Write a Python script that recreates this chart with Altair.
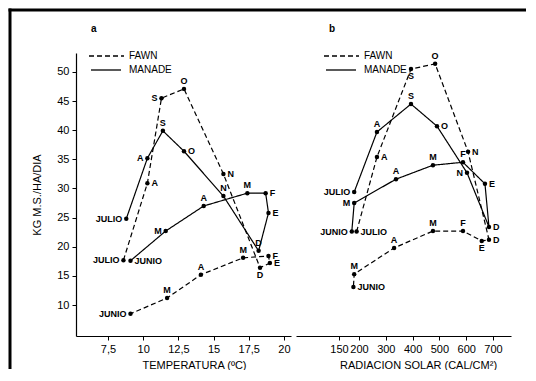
import altair as alt
import pandas as pd

FONT = "Liberation Sans"

meses = ["JULIO", "A", "S", "O", "N", "D", "E", "F", "M", "A", "M", "JUNIO"]

# Panel a: temperatura (ºC) vs kg MS/ha/dia
temp_manade = [8.8, 10.3, 11.4, 12.9, 15.7, 18.2, 18.9, 18.7, 17.4, 14.3, 11.6, 9.1]
kg_manade_a = [24.8, 35.2, 39.9, 36.4, 28.7, 19.3, 25.8, 29.2, 29.2, 27.0, 22.7, 17.6]
temp_fawn = [8.6, 10.3, 11.3, 12.9, 15.7, 18.3, 19.0, 18.9, 17.1, 14.1, 11.7, 9.1]
kg_fawn_a = [17.7, 30.9, 45.5, 47.1, 32.5, 16.4, 17.2, 18.4, 18.1, 15.2, 11.2, 8.5]

# Panel b: radiacion solar (cal/cm2) vs kg MS/ha/dia
rad_manade = [188, 267, 394, 491, 603, 685, 670, 588, 476, 338, 188, 182]
kg_manade_b = [29.4, 39.7, 44.5, 40.7, 32.7, 23.4, 30.8, 34.5, 34.0, 31.6, 27.5, 22.6]
rad_fawn = [194, 267, 394, 484, 607, 685, 658, 588, 476, 331, 188, 186]
kg_fawn_b = [22.6, 35.4, 50.5, 51.4, 36.3, 21.2, 21.0, 22.7, 22.7, 19.8, 15.3, 13.1]

# side of each month label (l=left, r=right, t=top, b=bottom)
lado_a_manade = ["l", "l", "t", "r", "t", "t", "r", "r", "t", "t", "l", "r"]
lado_a_fawn = ["l", "r", "l", "t", "r", "b", "r", "r", "t", "t", "t", "l"]
lado_b_manade = ["l", "t", "t", "r", "l", "r", "r", "t", "t", "t", "l", "l"]
lado_b_fawn = ["r", "r", "b", "t", "r", "r", "b", "t", "t", "t", "t", "r"]

series = ["FAWN", "MANADE"]
yticks = [10, 15, 20, 25, 30, 35, 40, 45, 50]
xticks_a = [7.5, 10, 12.5, 15, 17.5, 20]
xticks_b = [150, 200, 300, 400, 500, 600, 700]


def make_df(xs, ys, serie, lados):
    return pd.DataFrame({"x": xs, "y": ys, "serie": serie, "mes": meses,
                         "orden": list(range(len(meses))), "lado": lados})


dfa = pd.concat([make_df(temp_fawn, kg_fawn_a, "FAWN", lado_a_fawn),
                 make_df(temp_manade, kg_manade_a, "MANADE", lado_a_manade)])
dfb = pd.concat([make_df(rad_fawn, kg_fawn_b, "FAWN", lado_b_fawn),
                 make_df(rad_manade, kg_manade_b, "MANADE", lado_b_manade)])

W, H = 215, 283
Y_SCALE = alt.Scale(domain=[4.68, 53.26], nice=False, zero=False)
XA_SCALE = alt.Scale(domain=[5.23, 20.5], nice=False, zero=False)
XB_SCALE = alt.Scale(domain=[42.5, 150, 200, 700, 767], range=[0, 43, 63, 197, 215],
                     nice=False, zero=False)
DASH = alt.Scale(domain=series, range=[[5, 3], [1, 0]])

one = pd.DataFrame({"k": [0]})
leg_df = pd.DataFrame({"serie": series})


def legend_layers(x0):
    # legend: sample line segment + series name
    dashed = alt.Chart(leg_df).transform_filter(alt.datum.serie == "FAWN").mark_rule(
        color="black", strokeWidth=1.3, strokeDash=[5, 3], clip=False).encode(
        x=alt.value(x0), x2=alt.value(x0 + 35), y=alt.value(3), y2=alt.value(3))
    solid = alt.Chart(leg_df).transform_filter(alt.datum.serie == "MANADE").mark_rule(
        color="black", strokeWidth=1.3, clip=False).encode(
        x=alt.value(x0 + 2), x2=alt.value(x0 + 32), y=alt.value(17), y2=alt.value(17))
    t1 = alt.Chart(leg_df).transform_filter(alt.datum.serie == "FAWN").mark_text(
        align="left", baseline="middle", font=FONT, fontSize=10, color="black", clip=False).encode(
        text="serie:N", x=alt.value(x0 + 40), y=alt.value(3))
    t2 = alt.Chart(leg_df).transform_filter(alt.datum.serie == "MANADE").mark_text(
        align="left", baseline="middle", font=FONT, fontSize=10, color="black", clip=False).encode(
        text="serie:N", x=alt.value(x0 + 40), y=alt.value(17))
    return [dashed, solid, t1, t2]


def panel(df, xscale, xaxis, yaxis, legx, letter, letx, extra):
    base = alt.Chart(df).encode(
        x=alt.X("x:Q", scale=xscale, axis=xaxis),
        y=alt.Y("y:Q", scale=Y_SCALE, axis=yaxis),
    )
    line = base.mark_line(color="black", strokeWidth=1.2).encode(
        strokeDash=alt.StrokeDash("serie:N", scale=DASH, legend=None),
        order="orden:Q",
    )
    pts = base.mark_circle(color="black", size=20, opacity=1)
    texts = []
    for side, dx, dy, align, baseline in [("l", -4, 0, "right", "middle"),
                                          ("r", 4, 0, "left", "middle"),
                                          ("t", 0, -3, "center", "bottom"),
                                          ("b", 0, 3, "center", "top")]:
        texts.append(
            base.mark_text(dx=dx, dy=dy, align=align, baseline=baseline, font=FONT,
                           fontSize=9, fontWeight="bold", color="black")
            .encode(text="mes:N")
            .transform_filter(alt.datum.lado == side)
        )
    let = alt.Chart(one).mark_text(text=letter, align="left", baseline="middle", font=FONT,
                                   fontSize=10, fontWeight="bold", color="black",
                                   clip=False).encode(
        x=alt.value(letx), y=alt.value(-24))
    return alt.layer(line, pts, *texts, let, *legend_layers(legx), *extra).properties(
        width=W, height=H)


# outer frame of the figure (thick top and left borders)
frame_top = alt.Chart(one).mark_rect(color="black", clip=False).encode(
    x=alt.value(-67.5), x2=alt.value(450), y=alt.value(-44.5), y2=alt.value(-41.5))
frame_left = alt.Chart(one).mark_rect(color="black", clip=False).encode(
    x=alt.value(-67.5), x2=alt.value(-64.5), y=alt.value(-44.5), y2=alt.value(316))

axis_common = dict(grid=False, tickSize=4, labelPadding=3, labelFontSize=11,
                   titleFontSize=11, titleFontWeight="normal", domainColor="black")

yaxis_a = alt.Axis(values=yticks, title="KG M.S./HA/DIA", titlePadding=14, **axis_common)
xaxis_a = alt.Axis(values=xticks_a, title="TEMPERATURA (ºC)", titlePadding=5, titleX=118,
                   labelExpr="replace(toString(datum.value), '.', ',')", **axis_common)
xaxis_b = alt.Axis(values=xticks_b, title="RADIACION SOLAR (CAL/CM²)", titlePadding=5,
                   titleX=122, **axis_common)

pa = panel(dfa, XA_SCALE, xaxis_a, yaxis_a, 13, "a", 15, [frame_top, frame_left])
pb = panel(dfb, XB_SCALE, xaxis_b, None, 28, "b", 33, [])

chart = (
    alt.hconcat(pa, pb, spacing=5, bounds="flush")
    .properties(padding=0, background="white")
    .configure_view(stroke=None)
    .configure_axis(tickColor="black", labelColor="black",
                    titleColor="black", labelFont=FONT, titleFont=FONT, domainWidth=1.2)
)

chart.save("out.html", embed_options={"renderer": "svg", "actions": False})
